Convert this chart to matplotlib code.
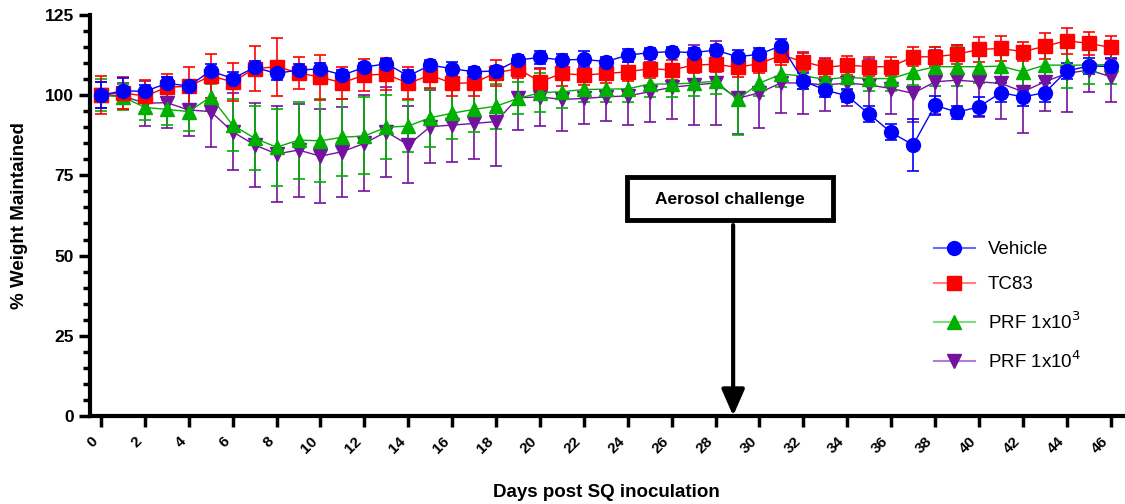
import matplotlib
matplotlib.use("Agg")
import matplotlib.pyplot as plt
import matplotlib.lines as mlines
from matplotlib.patches import Rectangle
from matplotlib.ticker import MultipleLocator

plt.rcParams["font.family"] = ["Liberation Sans", "DejaVu Sans"]

# ── Data: % body weight maintained (mean ± SD) per day post SQ inoculation ──

DAYS = list(range(47))

VEHICLE = [100.0, 101.4, 101.2, 103.7, 102.9, 107.6, 105.2, 108.7, 106.8, 107.9,
           108.2, 106.3, 108.7, 109.9, 106.0, 109.4, 108.3, 107.3, 107.6, 111.0,
           111.8, 111.0, 111.2, 110.5, 112.5, 113.3, 113.6, 113.3, 114.1, 112.0,
           112.8, 115.5, 104.5, 101.6, 99.8, 94.1, 88.4, 84.5, 96.9, 94.7,
           96.4, 100.8, 99.5, 100.8, 107.6, 109.1, 109.0]
VEHICLE_SD = [4, 4, 2, 2, 2, 2, 2, 2, 2, 2,
              2, 1.5, 1.5, 1.5, 2, 1.5, 2, 1.5, 1.5, 1.5,
              2, 2, 2.5, 1.5, 2, 1.5, 1.5, 1.5, 1.5, 2,
              2, 2, 2.5, 2, 2, 2.5, 2.5, 8, 3, 2,
              3, 3, 3, 3, 2.5, 2.5, 2.5]

TC83 = [100.0, 100.8, 99.7, 102.5, 102.8, 106.0, 104.2, 108.3, 108.9, 107.0,
        105.6, 103.9, 106.3, 106.6, 103.7, 106.3, 103.7, 103.9, 107.0, 108.3,
        104.2, 106.8, 106.3, 106.8, 107.3, 108.3, 107.9, 109.4, 109.7, 108.7,
        109.9, 112.5, 110.5, 108.7, 109.4, 108.9, 108.9, 112.0, 112.0, 112.8,
        114.3, 114.6, 113.6, 115.3, 117.0, 116.2, 114.9]
TC83_SD = [6, 5, 5, 4, 6, 7, 6, 7, 9, 5,
           7, 5, 5, 5, 5, 4, 4, 4, 4, 3,
           4, 4, 3, 3, 3, 3, 3, 2.5, 2.5, 3,
           3, 3, 3, 3, 3, 3, 3, 3, 3, 3,
           4, 4, 3, 4, 4, 3.5, 3.5]

PRF_1E3 = [100.0, 99.5, 96.2, 95.6, 94.9, 99.5, 90.7, 86.6, 83.8, 86.0,
           85.8, 86.9, 87.3, 90.0, 90.4, 93.0, 94.4, 95.6, 96.6, 99.0,
           100.8, 101.1, 101.8, 101.9, 102.0, 103.5, 103.5, 103.8, 104.4, 98.7,
           103.8, 106.6, 106.0, 105.0, 105.6, 105.2, 105.2, 107.3, 108.9, 108.9,
           108.9, 109.1, 107.3, 109.4, 109.4, 109.4, 109.6]
PRF_1E3_SD = [5, 4, 4, 5, 6, 4, 8, 10, 12, 12,
              13, 12, 12, 10, 8, 9, 8, 7, 7, 5,
              6, 5, 4, 4, 4, 4, 4, 4, 4, 11,
              4, 4, 4, 4, 4, 4, 4, 4, 6, 6,
              5, 5, 6, 4, 7, 6, 6]

PRF_1E4 = [100.0, 99.8, 97.5, 97.7, 95.4, 94.9, 88.6, 84.5, 81.7, 82.9,
           81.0, 82.4, 85.0, 88.6, 84.5, 90.2, 90.7, 91.2, 91.8, 99.2,
           99.5, 98.7, 99.0, 99.5, 99.8, 101.1, 102.5, 103.2, 103.8, 99.0,
           100.8, 103.9, 103.8, 103.2, 103.8, 103.2, 102.1, 100.6, 104.2, 104.7,
           104.2, 103.7, 101.1, 104.2, 106.8, 107.9, 105.8]
PRF_1E4_SD = [4, 4, 7, 8, 8, 11, 12, 13, 15, 14.5,
              14.7, 14, 15, 14, 12, 11.4, 11.4, 11, 14, 10,
              9, 10, 8, 7.5, 9, 9.3, 10, 12.5, 13, 11,
              11, 9.5, 9.5, 8, 7, 8, 8, 9, 10, 11,
              11, 11, 13, 9, 12, 7, 8]

CHALLENGE_DAY = 28.8

# drawn bottom-to-top
SERIES = [
    ("PRF 1x10$^4$", PRF_1E4, PRF_1E4_SD, "#7412A0", "#B57AD3", "v"),
    ("PRF 1x10$^3$", PRF_1E3, PRF_1E3_SD, "#00B000", "#7FDD7F", "^"),
    ("TC83", TC83, TC83_SD, "#FF0000", "#FF8080", "s"),
    ("Vehicle", VEHICLE, VEHICLE_SD, "#0000FF", "#6A6AFF", "o"),
]

fig = plt.figure(figsize=(11.25, 5.04), dpi=100)
ax = fig.add_axes([0.080, 0.175, 0.918, 0.795])

for label, mean, sd, col, _, mk in SERIES:
    ax.errorbar(DAYS, mean, yerr=sd, color=col, marker=mk, ms=10,
                mec=col, mfc=col, lw=1.0, elinewidth=1.2,
                capsize=4.5, capthick=1.2)

ax.set_xlim(-0.5, 46.55)
ax.set_ylim(0, 125)
ax.xaxis.set_major_locator(MultipleLocator(2))
ax.yaxis.set_major_locator(MultipleLocator(25))
ax.yaxis.set_minor_locator(MultipleLocator(5))

for side in ["top", "right"]:
    ax.spines[side].set_visible(False)
for side in ["left", "bottom"]:
    ax.spines[side].set_linewidth(3)

ax.tick_params(axis="both", which="major", width=2.5, length=8,
               direction="out")
ax.tick_params(axis="y", which="major", labelsize=12.5)
ax.tick_params(axis="x", which="major", labelsize=11, pad=5)
ax.tick_params(axis="y", which="minor", width=2.5, length=5)
for t in ax.get_xticklabels():
    t.set_rotation(45)
    t.set_ha("right")
    t.set_fontweight("bold")
for t in ax.get_yticklabels():
    t.set_fontweight("bold")

ax.set_xlabel("Days post SQ inoculation", fontsize=13.5, fontweight="bold",
              labelpad=20)
ax.set_ylabel("% Weight Maintained", fontsize=13.5, fontweight="bold",
              labelpad=12)

# challenge marker: boxed label above a downward arrow onto the x axis
ax.add_patch(Rectangle((CHALLENGE_DAY - 4.82, 61.0), 9.38, 13.4,
                       fc="white", ec="black", lw=3.5, zorder=5))
ax.text(CHALLENGE_DAY - 0.13, 67.6, "Aerosol challenge", ha="center",
        va="center", fontsize=12.5, fontweight="bold", zorder=6)
ax.annotate("", xy=(CHALLENGE_DAY, 0), xytext=(CHALLENGE_DAY, 59.5),
            arrowprops=dict(arrowstyle="-|>,head_length=0.8,head_width=0.35",
                            color="black", lw=3, mutation_scale=20,
                            shrinkA=0, shrinkB=0))

handles = []
for label, _, _, col, light, mk in reversed(SERIES):
    handles.append(mlines.Line2D([0], [0], color=light, lw=1.5, marker=mk,
                                 ms=10, mfc=col, mec=col, label=label))
fig.legend(handles=handles, loc="upper left", bbox_to_anchor=(0.815, 0.555),
           frameon=False, fontsize=13.5, handlelength=2.2, handletextpad=0.7,
           labelspacing=0.95)

fig.savefig("out.png", dpi=100)
